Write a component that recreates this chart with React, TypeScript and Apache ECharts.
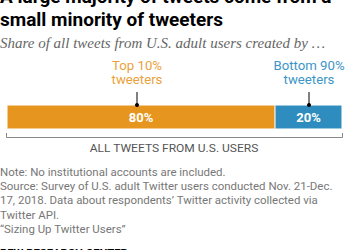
import React, { useEffect, useRef } from "react";
import * as echarts from "echarts";

const categories = ["ALL TWEETS FROM U.S. USERS"];
const groupNames = ["Top 10% tweeters", "Bottom 90% tweeters"];
const topShare = [80];
const bottomShare = [20];
const noteLines = [
  "Note: No institutional accounts are included.",
  "Source: Survey of U.S. adult Twitter users conducted Nov. 21-Dec.",
  "17, 2018. Data about respondents\u2019 Twitter activity collected via",
  "Twitter API.",
  "\u201cSizing Up Twitter Users\u201d",
];

const ORANGE = "#E6961E";
const BLUE = "#2E8DBE";
const ORANGE_T = "#E9A23B";
const BLUE_T = "#3C95C6";

let ctx: CanvasRenderingContext2D | null = null;
function measure(text: string, font: string): number {
  if (!ctx) ctx = document.createElement("canvas").getContext("2d");
  if (!ctx) return 0;
  ctx.font = font;
  return ctx.measureText(text).width;
}
function fitScale(text: string, font: string, target: number): number {
  const w = measure(text, font);
  return w > 0 ? target / w : 1;
}

function txt(x: number, y: number, text: string, font: string, fill: string, align = "left", scaleX = 1, vAlign = "middle") {
  return {
    type: "text",
    x,
    y,
    scaleX,
    silent: true,
    style: {
      text,
      font,
      fill,
      align,
      verticalAlign: vAlign,
      textAlign: align,
      textVerticalAlign: vAlign,
    },
  };
}

export default function App() {
  const ref = useRef<HTMLDivElement>(null);
  useEffect(() => {
    if (!ref.current) return;
    const chart = echarts.init(ref.current, null, { renderer: "svg" });
    const titleFont = "bold 18.5px Roboto";
    const tScale = fitScale("small minority of tweeters", titleFont, 223);
    const subFont = "italic 14.5px 'Liberation Serif'";
    const subText = "Share of all tweets from U.S. adult users created by \u2026";
    const sScale = fitScale(subText, subFont, 325);
    const noteFont = "11.5px Roboto";
    const nScale = fitScale(noteLines[1], noteFont, 333);
    const catFont = "11.5px Roboto";
    const cScale = fitScale(categories[0], catFont, 169);
    const pewFont = "bold 11.5px Roboto";
    const pScale = fitScale("PEW RESEARCH CENTER", pewFont, 128);
    const lblFont = "13px Roboto";
    const lScale = fitScale("Top 10%", lblFont, 50);
    const graphic: any[] = [
      txt(0, -2.5, "A large majority of tweets come from a", titleFont, "#000", "left", tScale),
      txt(0, 20, "small minority of tweeters", titleFont, "#000", "left", tScale),
      txt(0, 43, subText, subFont, "#666", "left", sScale),
      txt(137, 66, "Top 10%", lblFont, ORANGE_T, "center", lScale),
      txt(137, 80, "tweeters", lblFont, ORANGE_T, "center", lScale),
      txt(309, 66, "Bottom 90%", lblFont, BLUE_T, "center", lScale),
      txt(309, 80, "tweeters", lblFont, BLUE_T, "center", lScale),
      { type: "line", silent: true, shape: { x1: 137, y1: 92, x2: 137, y2: 105 }, style: { stroke: "#000", lineWidth: 1 } },
      { type: "circle", silent: true, shape: { cx: 137, cy: 105, r: 2 }, style: { fill: "#000" }, z: 10 },
      { type: "line", silent: true, shape: { x1: 309, y1: 92, x2: 309, y2: 105 }, style: { stroke: "#000", lineWidth: 1 } },
      { type: "circle", silent: true, shape: { cx: 309, cy: 105, r: 2 }, style: { fill: "#000" }, z: 10 },
      {
        type: "polyline",
        silent: true,
        shape: { points: [[6.5, 133], [6.5, 137.5], [342.5, 137.5], [342.5, 133]] },
        style: { stroke: "#888", lineWidth: 1, fill: "none" },
      },
      txt(174, 148, categories[0], catFont, "#555", "center", cScale),
      ...noteLines.map((l, i) => txt(0, 171.5 + i * 14.4, l, noteFont, "#777", "left", nScale)),
      txt(0, 253, "PEW RESEARCH CENTER", pewFont, "#000", "left", pScale),
    ];
    chart.setOption({
      animation: false,
      grid: { left: 7, right: 8, top: 105, height: 24, containLabel: false },
      xAxis: { type: "value", min: 0, max: 100, show: false },
      yAxis: { type: "category", data: categories, show: false },
      series: [
        {
          name: groupNames[0],
          type: "bar",
          stack: "total",
          barWidth: "100%",
          data: topShare,
          itemStyle: { color: ORANGE, borderColor: "#fff", borderWidth: 0.5 },
          label: { show: true, position: "inside", formatter: "{c}%", color: "#fff", fontWeight: "bold", fontSize: 13, fontFamily: "Roboto" },
        },
        {
          name: groupNames[1],
          type: "bar",
          stack: "total",
          barWidth: "100%",
          data: bottomShare,
          itemStyle: { color: BLUE, borderColor: "#fff", borderWidth: 0.5 },
          label: { show: true, position: "inside", formatter: "{c}%", color: "#fff", fontWeight: "bold", fontSize: 13, fontFamily: "Roboto" },
        },
      ],
      graphic,
    });
    return () => chart.dispose();
  }, []);
  return (
    <div
      ref={ref}
      style={{ position: "fixed", left: 0, top: 0, width: 350, height: 250, background: "#fff" }}
    />
  );
}
